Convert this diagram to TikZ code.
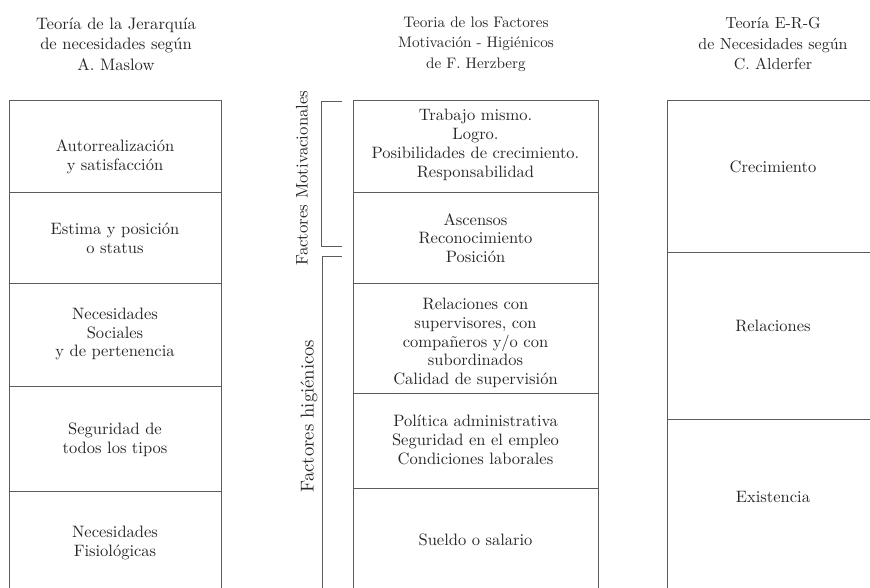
\documentclass[tikz,border=0pt]{standalone}
\usepackage{fontspec}
\setmainfont{lmroman10-regular.otf}[BoldFont=lmroman10-bold.otf,ItalicFont=lmroman10-italic.otf]
\definecolor{ink}{HTML}{262626}
\definecolor{rule}{HTML}{5C5C5C}
\tikzset{
  cell/.style={draw=rule, line width=0.9pt, rectangle, inner sep=0pt},
  body/.style={text=ink, align=center, inner sep=0pt, font=\fontsize{16.5}{18.8}\selectfont},
  head/.style={text=ink, align=center, inner sep=0pt},
  brack/.style={draw=rule, line width=0.9pt},
  sidelabel/.style={text=ink, rotate=90, inner sep=0pt}
}
\begin{document}
\begin{tikzpicture}[x=1pt,y=-1pt]
\useasboundingbox (0,0) rectangle (870,587);
\clip (0,0) rectangle (870,587);
% headers
\node[head, font=\fontsize{16.6}{20.5}\selectfont] (h1) at (116,44) {Teoría de la Jerarquía\\de necesidades según\\A. Maslow};
\node[head, font=\fontsize{15.2}{20.5}\selectfont] (h2) at (476,44) {Teoria de los Factores\\Motivación - Higiénicos\\de F. Herzberg};
\node[head, font=\fontsize{16}{20.5}\selectfont] (h3) at (773,44) {Teoría E-R-G\\de Necesidades según\\C. Alderfer};
% Maslow column
\node[cell, minimum width=212pt, minimum height=92pt]  (m1) at (115,146) {};
\node[cell, minimum width=212pt, minimum height=91pt]  (m2) at (115,237.5) {};
\node[cell, minimum width=212pt, minimum height=103pt] (m3) at (115,334.5) {};
\node[cell, minimum width=212pt, minimum height=105pt] (m4) at (115,438.5) {};
\node[cell, minimum width=212pt, minimum height=110pt] (m5) at (115,546) {};
\node[body] (tm1) at (115,157) {Autorrealización\\y satisfacción};
\node[body] (tm2) at (115,238) {Estima y posición\\o status};
\node[body] (tm3) at (115,334) {Necesidades\\Sociales\\y de pertenencia};
\node[body] (tm4) at (115,440) {Seguridad de\\todos los tipos};
\node[body] (tm5) at (115,543) {Necesidades\\Fisiológicas};
% Herzberg column
\node[cell, minimum width=245pt, minimum height=92pt]  (f1) at (475.5,146) {};
\node[cell, minimum width=245pt, minimum height=91pt]  (f2) at (475.5,237.5) {};
\node[cell, minimum width=245pt, minimum height=110pt] (f3) at (475.5,338) {};
\node[cell, minimum width=245pt, minimum height=95pt]  (f4) at (475.5,440.5) {};
\node[cell, minimum width=245pt, minimum height=112pt] (f5) at (475.5,544) {};
\node[body] (tf1) at (475.5,145) {Trabajo mismo.\\Logro.\\Posibilidades de crecimiento.\\Responsabilidad};
\node[body] (tf2) at (475.5,238) {Ascensos\\Reconocimiento\\Posición};
\node[body] (tf3) at (475.5,343) {Relaciones con\\supervisores, con\\compañeros y/o con\\subordinados\\Calidad de supervisión};
\node[body] (tf4) at (475.5,440) {Política administrativa\\Seguridad en el empleo\\Condiciones laborales};
\node[body] (tf5) at (475.5,540) {Sueldo o salario};
% Alderfer column
\node[cell, minimum width=220pt, minimum height=152pt] (a1) at (777,176) {};
\node[cell, minimum width=220pt, minimum height=167pt] (a2) at (777,335.5) {};
\node[cell, minimum width=220pt, minimum height=185pt] (a3) at (777,511.5) {};
\node[body] (ta1) at (773,167) {Crecimiento};
\node[body] (ta2) at (773,326) {Relaciones};
\node[body] (ta3) at (773,497) {Existencia};
% brackets
\coordinate (b1t) at (342,101);
\coordinate (b1b) at (342,246);
\coordinate (b2t) at (342,256);
\coordinate (b2b) at (322,600);
\draw[brack] (b1t) -| (321.5,246) -- (b1b);
\draw[brack] (b2t) -| (b2b);
\node[sidelabel, font=\fontsize{16.8}{19}\selectfont] (lm) at (302,178) {Factores Motivacionales};
\node[sidelabel, font=\fontsize{18.6}{21}\selectfont] (lh) at (309,416) {Factores higiénicos};
\end{tikzpicture}
\end{document}
